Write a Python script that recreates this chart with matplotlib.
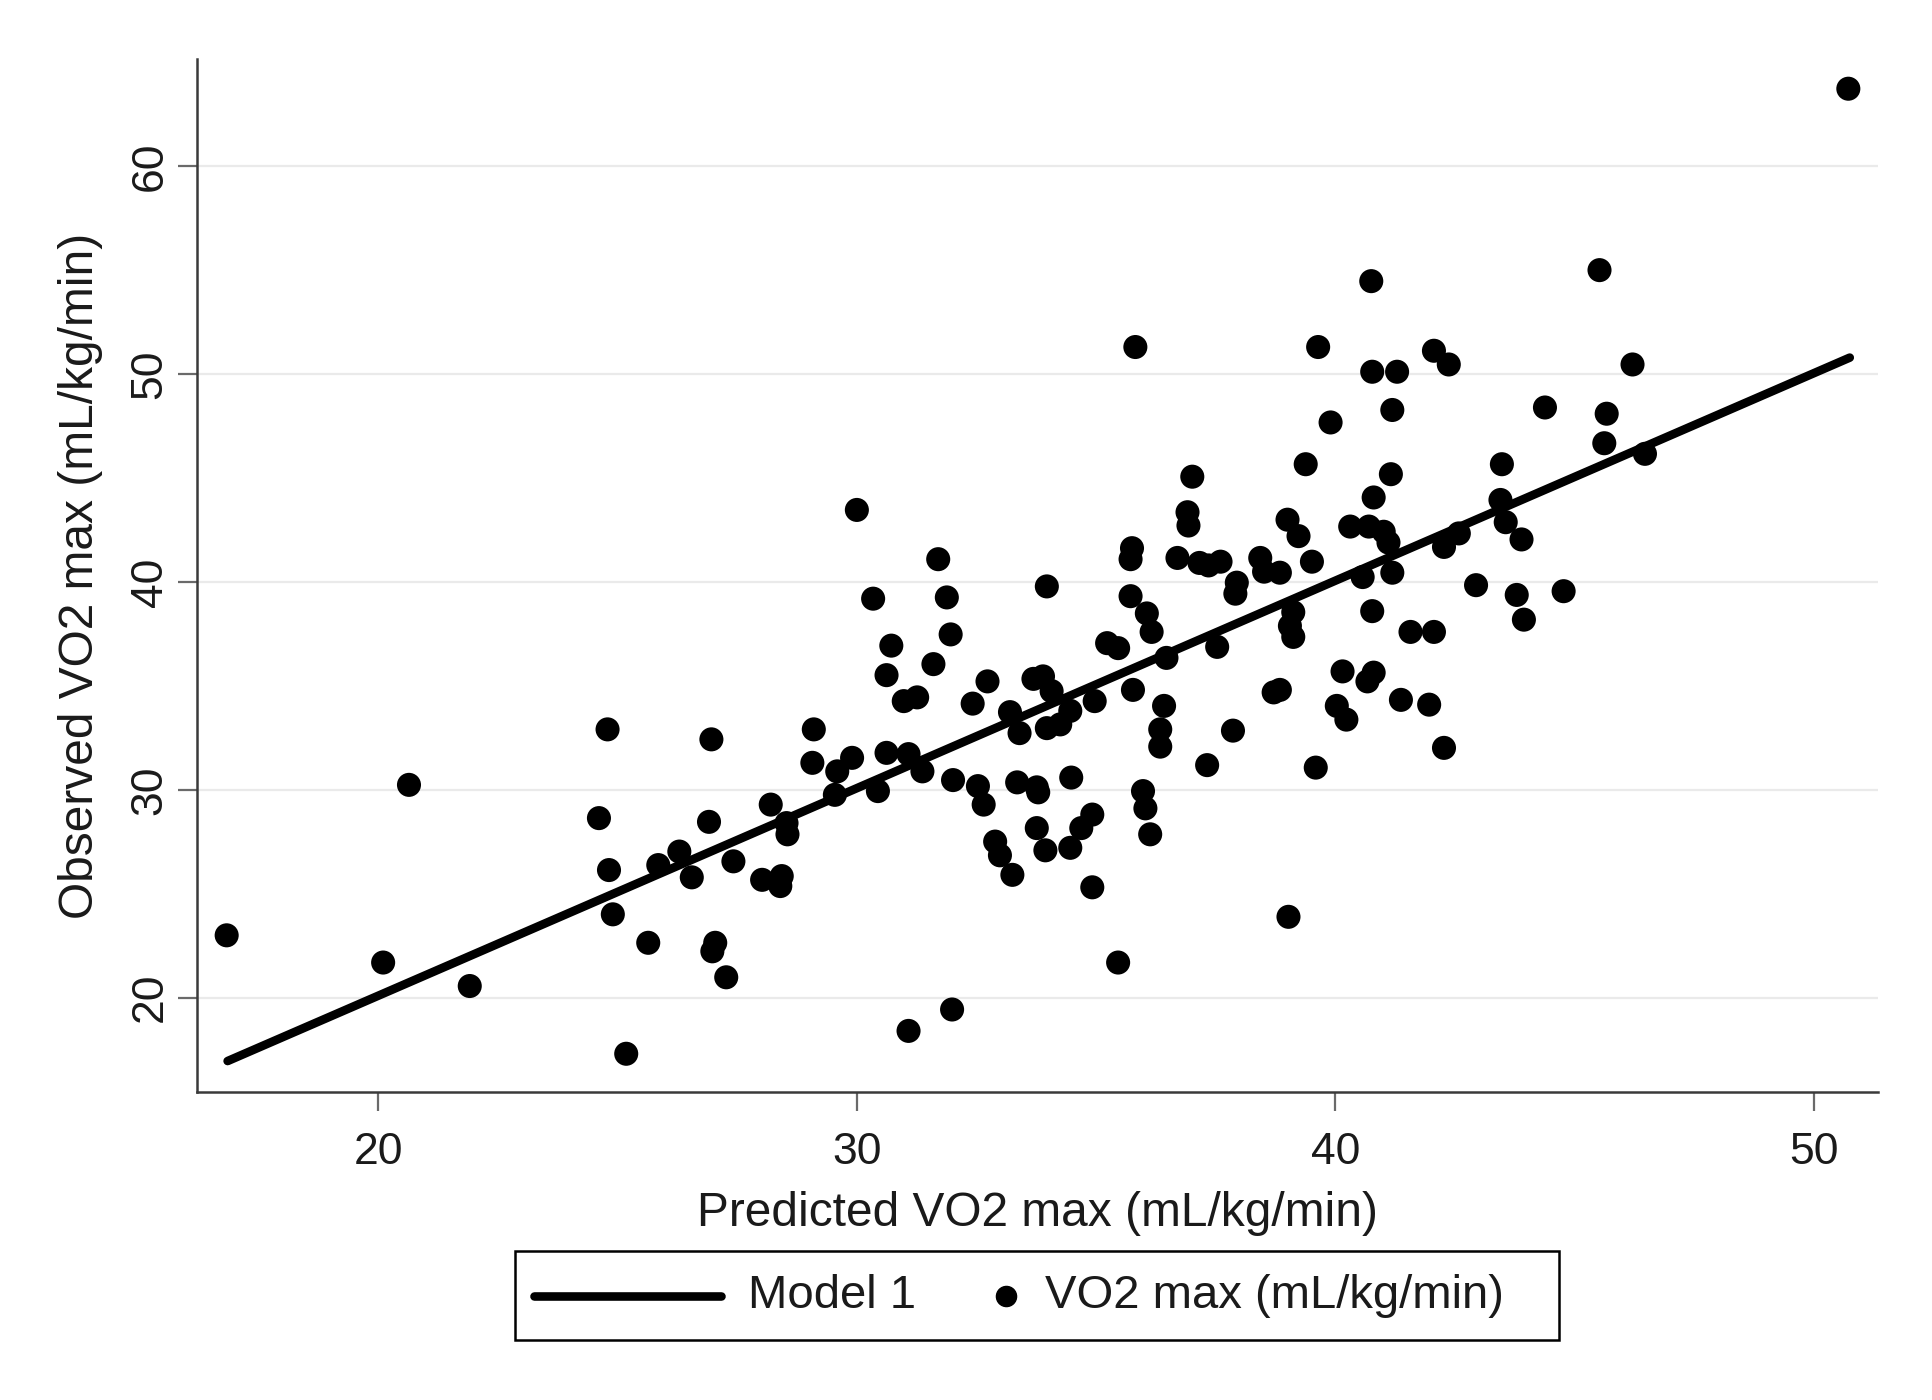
import matplotlib
matplotlib.use("Agg")
import matplotlib.pyplot as plt
from matplotlib.lines import Line2D
from matplotlib.patches import Rectangle

plt.rcParams['font.family'] = ['Liberation Sans', 'DejaVu Sans']

# Observed vs predicted VO2 max (mL/kg/min)
predicted = [16.83, 20.10, 20.64, 21.91, 24.61, 24.79, 24.82, 24.90, 25.18, 25.64,
             25.85, 26.29, 26.55, 26.96, 26.91, 27.04, 26.98, 27.27, 27.42, 28.02,
             28.20, 28.43, 28.40, 28.53, 28.55, 29.10, 29.07, 29.59, 29.54, 29.90,
             30.00, 30.34, 30.44, 30.62, 30.72, 30.62, 30.98, 31.26, 31.08, 31.08,
             31.37, 31.60, 31.70, 31.88, 31.96, 31.99, 32.01, 32.42, 32.53, 32.65,
             32.73, 32.89, 32.99, 33.20, 33.25, 33.40, 33.35, 33.69, 33.76, 33.79,
             33.89, 33.76, 33.94, 33.97, 33.97, 34.07, 34.25, 34.46, 34.46, 34.48,
             34.69, 34.92, 34.92, 34.97, 35.23, 35.46, 35.46, 35.75, 35.72, 35.72,
             35.82, 35.77, 36.06, 36.16, 35.98, 36.03, 36.13, 36.42, 36.34, 36.34,
             36.47, 36.70, 36.91, 36.93, 37.01, 37.16, 37.32, 37.35, 37.53, 37.60,
             37.94, 37.91, 37.86, 38.43, 38.51, 38.84, 38.71, 38.84, 39.00, 39.02,
             39.12, 39.05, 39.12, 39.23, 39.38, 39.51, 39.59, 39.64, 39.90, 40.15,
             40.03, 40.23, 40.31, 40.57, 40.70, 40.67, 40.75, 40.77, 40.80, 40.77,
             40.80, 41.01, 41.11, 41.16, 41.19, 41.19, 41.29, 41.37, 41.57, 41.96,
             42.06, 42.06, 42.27, 42.27, 42.37, 42.58, 42.94, 43.48, 43.45, 43.56,
             43.79, 43.94, 43.89, 44.38, 44.77, 45.52, 45.62, 45.67, 46.21, 46.47,
             50.72]
observed = [23.00, 21.69, 30.24, 20.56, 28.64, 32.91, 26.14, 24.01, 17.30, 22.64,
            26.38, 27.03, 25.79, 32.43, 28.46, 22.64, 22.23, 20.98, 26.56, 25.67,
            29.29, 25.85, 25.37, 28.40, 27.86, 32.91, 31.30, 30.89, 29.76, 31.54,
            43.47, 39.20, 29.94, 35.52, 36.94, 31.78, 34.27, 34.45, 31.72, 18.40,
            30.89, 36.05, 41.10, 39.26, 37.48, 19.43, 30.47, 34.15, 30.18, 29.29,
            35.22, 27.51, 26.85, 33.74, 25.91, 32.73, 30.36, 35.34, 30.12, 29.88,
            35.46, 28.16, 27.09, 39.79, 32.97, 34.75, 33.15, 33.80, 27.21, 30.59,
            28.16, 28.81, 25.31, 34.27, 37.06, 21.69, 36.82, 41.63, 41.10, 39.32,
            51.31, 34.81, 38.49, 37.60, 29.94, 29.11, 27.86, 34.04, 32.91, 32.08,
            36.35, 41.16, 43.36, 42.72, 45.07, 40.92, 31.19, 40.80, 36.88, 40.98,
            39.97, 39.44, 32.85, 41.16, 40.50, 40.45, 34.69, 34.81, 43.00, 23.89,
            38.55, 37.89, 37.36, 42.21, 45.67, 40.98, 31.07, 51.31, 47.68, 35.70,
            34.04, 33.38, 42.67, 40.24, 42.67, 35.22, 54.48, 50.12, 44.07, 38.60,
            35.64, 42.42, 41.90, 45.19, 48.28, 40.45, 50.12, 34.33, 37.60, 34.10,
            51.13, 37.60, 41.69, 32.02, 50.47, 42.34, 39.85, 45.67, 43.95, 42.88,
            39.38, 38.19, 42.05, 48.40, 39.56, 55.01, 46.68, 48.10, 50.47, 46.17,
            63.74]

# Model 1 fitted line (endpoints over the predicted range)
model1_x = [16.85, 50.75]
model1_y = [16.95, 50.80]

x_ticks = [20, 30, 40, 50]
y_ticks = [20, 30, 40, 50, 60]
legend_labels = ['Model 1', 'VO2 max (mL/kg/min)']

W, H = 1933, 1400
fig = plt.figure(figsize=(W / 100, H / 100), dpi=100)
fig.patch.set_facecolor('white')
ax = fig.add_axes([197 / W, 1 - 1092 / H, (1878 - 197) / W, (1092 - 59) / H])
ax.set_facecolor('white')

ax.set_xlim(16.21, 51.34)
ax.set_ylim(15.46, 65.17)

for yv in y_ticks:
    ax.axhline(yv, color='#eaeaea', lw=1.6, zorder=0)

ax.plot(model1_x, model1_y, color='black', lw=6.2, solid_capstyle='round', zorder=3)
ax.scatter(predicted, observed, s=300, color='black', edgecolors='none', zorder=4)

for side in ['top', 'right']:
    ax.spines[side].set_visible(False)
for side in ['left', 'bottom']:
    ax.spines[side].set_color('#3a3a3a')
    ax.spines[side].set_linewidth(1.8)

ax.set_xticks(x_ticks)
ax.set_yticks(y_ticks)
ax.tick_params(axis='both', direction='out', length=14, width=1.6, color='#6a6a6a',
               labelsize=32, labelcolor='#1a1a1a')
ax.tick_params(axis='x', pad=15)
ax.tick_params(axis='y', pad=5)
for lab in ax.get_yticklabels():
    lab.set_rotation(90)
    lab.set_va('center')

ax.set_xlabel('Predicted VO2 max (mL/kg/min)', fontsize=34.5, color='#1a1a1a', labelpad=13)
ax.set_ylabel('Observed VO2 max (mL/kg/min)', fontsize=34.5, color='#1a1a1a', labelpad=19)

# Legend box drawn in figure pixel fractions
def fx(px):
    return px / W

def fy(py):
    return 1 - py / H

box = Rectangle((fx(515), fy(1340)), fx(1559) - fx(515), fy(1251) - fy(1340),
                transform=fig.transFigure, facecolor='white', edgecolor='black',
                linewidth=1.8)
fig.patches.append(box)
ycen = fy(1296)
fig.add_artist(Line2D([fx(534), fx(721)], [ycen, ycen], transform=fig.transFigure,
                      color='black', lw=6.2, solid_capstyle='round'))
fig.text(fx(748), ycen, legend_labels[0], fontsize=34, color='#1a1a1a',
         va='center', ha='left')
fig.add_artist(Line2D([fx(1006)], [ycen], transform=fig.transFigure, marker='o',
                      color='black', ls='none', markersize=14.5))
fig.text(fx(1045), ycen, legend_labels[1], fontsize=34, color='#1a1a1a',
         va='center', ha='left')

fig.savefig('out.png', dpi=100, facecolor='white')
